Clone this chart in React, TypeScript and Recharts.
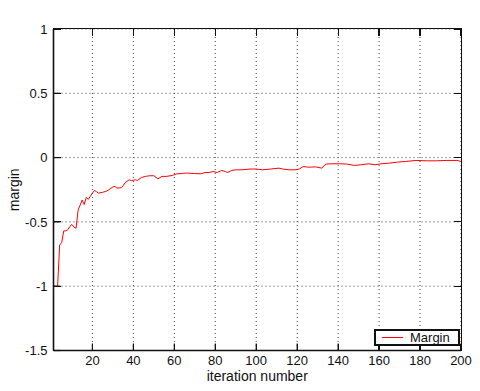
import React from 'react';
import { LineChart, Line, XAxis, YAxis, CartesianGrid, Legend } from 'recharts';

const iterations = [
  1, 2, 3, 4, 5, 6, 7, 8, 9, 10, 11, 12, 13, 14, 15, 16, 17, 18, 19, 20,
  21, 22, 23, 25, 27, 28, 30, 31, 32, 34, 35, 36, 38, 39, 41, 42, 44, 46, 48, 50,
  52, 54, 56, 59, 61, 64, 66, 70, 73, 75, 77, 79, 81, 83, 85, 86, 88, 90, 93, 97,
  100, 103, 107, 111, 113, 116, 119, 121, 123, 125, 127, 129, 132, 134, 138, 141, 144, 148, 151, 155,
  158, 161, 165, 169, 173, 178, 183, 188, 193, 198, 200,
];
const margins = [
  -1, -1, -1, -0.68, -0.66, -0.57, -0.57, -0.56, -0.535, -0.52, -0.54, -0.55, -0.41, -0.37, -0.33, -0.365, -0.31, -0.325, -0.3, -0.276,
  -0.255, -0.265, -0.276, -0.27, -0.26, -0.25, -0.228, -0.224, -0.237, -0.235, -0.219, -0.195, -0.172, -0.18, -0.172, -0.178, -0.154, -0.146, -0.141, -0.141,
  -0.165, -0.146, -0.146, -0.139, -0.127, -0.123, -0.12, -0.124, -0.126, -0.116, -0.116, -0.108, -0.116, -0.1, -0.108, -0.116, -0.1, -0.095, -0.095, -0.089,
  -0.089, -0.095, -0.089, -0.082, -0.089, -0.095, -0.095, -0.089, -0.069, -0.074, -0.074, -0.072, -0.082, -0.05, -0.048, -0.048, -0.05, -0.061, -0.056, -0.048,
  -0.056, -0.048, -0.043, -0.035, -0.03, -0.022, -0.025, -0.025, -0.022, -0.022, -0.03,
];
const xDomain = [1, 200];
const yDomain = [-1.5, 1];
const xTicks = [20, 40, 60, 80, 100, 120, 140, 160, 180, 200];
const yTicks = [-1.5, -1, -0.5, 0, 0.5, 1];
const seriesName = 'Margin';
const title = 'Margin(AdaBoost)';
const xLabel = 'iteration number';
const yLabel = 'margin';

const data = iterations.map((it, i) => ({ it, margin: margins[i] }));

const FONT = '"Liberation Sans", Arial, Helvetica, sans-serif';
const INK = '#111111';

// chart geometry
const W = 480;
const H = 391;
const M = { top: 29, right: 19, bottom: 20.5, left: 0 };
const Y_AXIS_W = 53.5;
const X_AXIS_H = 20;
const PLOT = {
  x: M.left + Y_AXIS_W,
  y: M.top,
  w: W - M.right - M.left - Y_AXIS_W,
  h: H - M.top - M.bottom - X_AXIS_H,
};
const TICK_PX = 7;
const FRAME_W = 1.6;
const TICK_W = 1.2;

const px = (v: number) => PLOT.x + ((v - xDomain[0]) / (xDomain[1] - xDomain[0])) * PLOT.w;
const py = (v: number) => PLOT.y + ((yDomain[1] - v) / (yDomain[1] - yDomain[0])) * PLOT.h;

const abs = (left: number, top: number, width: number, height: number): React.CSSProperties => ({
  position: 'absolute',
  left,
  top,
  width,
  height,
  background: INK,
});

// Box frame with inward tick marks drawn as an overlay on the plot area
const FrameOverlay = () => (
  <div style={{ position: 'absolute', left: 0, top: 0, width: W, height: H, pointerEvents: 'none' }}>
    <div
      style={{
        position: 'absolute',
        boxSizing: 'border-box',
        left: PLOT.x - FRAME_W / 2,
        top: PLOT.y - FRAME_W / 2,
        width: PLOT.w + FRAME_W,
        height: PLOT.h + FRAME_W,
        border: `${FRAME_W}px solid ${INK}`,
      }}
    />
    {xTicks.map((t) => (
      <React.Fragment key={`x${t}`}>
        <div style={abs(px(t) - TICK_W / 2, PLOT.y, TICK_W, TICK_PX)} />
        <div style={abs(px(t) - TICK_W / 2, PLOT.y + PLOT.h - TICK_PX, TICK_W, TICK_PX)} />
      </React.Fragment>
    ))}
    {yTicks.map((t) => (
      <React.Fragment key={`y${t}`}>
        <div style={abs(PLOT.x, py(t) - TICK_W / 2, TICK_PX, TICK_W)} />
        <div style={abs(PLOT.x + PLOT.w - TICK_PX, py(t) - TICK_W / 2, TICK_PX, TICK_W)} />
      </React.Fragment>
    ))}
  </div>
);

const LegendBox = () => (
  <div
    style={{
      boxSizing: 'border-box',
      width: 86,
      height: 17,
      border: `2px solid ${INK}`,
      background: '#fff',
      display: 'flex',
      alignItems: 'center',
      fontFamily: FONT,
      fontSize: 13,
      color: INK,
    }}
  >
    <div style={{ width: 21, height: 0, borderTop: '1px solid red', marginLeft: 6, marginRight: 7 }} />
    <span style={{ lineHeight: '13px' }}>{seriesName}</span>
  </div>
);

export default function App() {
  return (
    <div style={{ position: 'absolute', left: 0, top: 0, width: W, height: H, background: '#fff' }}>
      <LineChart width={W} height={H} data={data} margin={M} style={{ fontFamily: FONT }}>
        <CartesianGrid
          xAxisId="b"
          yAxisId="l"
          stroke="#444444"
          strokeDasharray="1 3"
          horizontalValues={yTicks}
          verticalValues={xTicks}
        />
        <XAxis
          xAxisId="b"
          dataKey="it"
          type="number"
          domain={xDomain}
          ticks={xTicks}
          allowDataOverflow
          orientation="bottom"
          height={X_AXIS_H}
          stroke={INK}
          tickSize={-7}
          tickMargin={12}
          axisLine={{ stroke: INK, strokeWidth: 1.6 }}
          tickLine={{ stroke: INK, strokeWidth: 1.2 }}
          tick={{ fill: INK, fontSize: 13 }}
          label={{ value: xLabel, position: 'bottom', offset: 1, fill: INK, fontSize: 14 }}
        />
        <XAxis
          xAxisId="t"
          dataKey="it"
          type="number"
          domain={xDomain}
          ticks={xTicks}
          allowDataOverflow
          orientation="top"
          height={0}
          stroke={INK}
          tickSize={-7}
          tick={false}
          axisLine={{ stroke: INK, strokeWidth: 1.6 }}
          tickLine={{ stroke: INK, strokeWidth: 1.2 }}
          label={{ value: title, position: 'top', offset: 10, fill: INK, fontSize: 14 }}
        />
        <YAxis
          yAxisId="l"
          type="number"
          domain={yDomain}
          ticks={yTicks}
          allowDataOverflow
          width={Y_AXIS_W}
          stroke={INK}
          tickSize={-7}
          tickMargin={13}
          axisLine={{ stroke: INK, strokeWidth: 1.6 }}
          tickLine={{ stroke: INK, strokeWidth: 1.2 }}
          tick={{ fill: INK, fontSize: 13 }}
          label={{ value: yLabel, angle: -90, position: 'insideLeft', offset: 14, fill: INK, fontSize: 14, style: { textAnchor: 'middle' } }}
        />
        <Line
          xAxisId="b"
          yAxisId="l"
          type="linear"
          dataKey="margin"
          name={seriesName}
          stroke="red"
          strokeWidth={1}
          dot={false}
          isAnimationActive={false}
        />
        <Legend
          content={<LegendBox />}
          wrapperStyle={{ position: 'absolute', left: 374, top: 329, width: 86, height: 0, overflow: 'visible' }}
        />
      </LineChart>
      <FrameOverlay />
    </div>
  );
}
